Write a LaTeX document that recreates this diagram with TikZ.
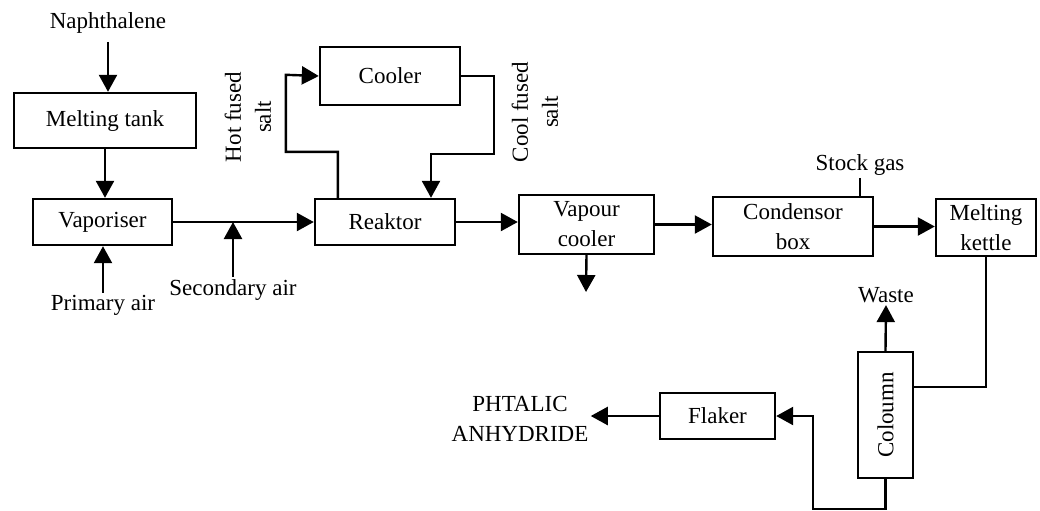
\documentclass[tikz,border=0pt]{standalone}
\usepackage{fontspec}
\setmainfont{Liberation Serif}
\usetikzlibrary{arrows.meta,positioning,calc}

\begin{document}
\begin{tikzpicture}[
  x=0.5pt,y=-0.5pt,
  box/.style={draw,line width=1.2pt,inner sep=1pt,align=center,font=\fontsize{11.5}{15}\selectfont},
  tag/.style={inner sep=1pt,align=center,font=\fontsize{11.5}{15}\selectfont},
  flow/.style={-{Triangle[length=8.5pt,width=9pt]},line width=1.2pt},
  pipe/.style={line width=1.2pt}
]
  \useasboundingbox (0,0) rectangle (1040,510);
  % units
  \node[box,minimum width=91pt,minimum height=27.5pt] (tank) at (105,120.5) {Melting tank};
  \node[box,minimum width=69.5pt,minimum height=23pt] (vap) at (102.5,222) {Vaporiser};
  \node[box,minimum width=70pt,minimum height=29pt] (cooler) at (390,76) {Cooler};
  \node[box,minimum width=70pt,minimum height=23pt] (reaktor) at (385,222) {Reaktor};
  \node[box,minimum width=67.5pt,minimum height=29.5pt] (vcool) at (586.5,224.5) {Vapour\\cooler};
  \node[box,minimum width=80pt,minimum height=29.5pt] (cond) at (793,226.5) {Condensor\\box};
  \node[box,minimum width=50pt,minimum height=28.5pt] (kettle) at (986,227.5) {Melting\\kettle};
  \node[box,minimum width=27.5pt,minimum height=63pt] (column) at (885.5,415) {\rotatebox{90}{Coloumn}};
  \node[box,minimum width=57.5pt,minimum height=23pt] (flaker) at (717.5,416) {Flaker};
  % streams
  \node[tag] (naph) at (108,23) {Naphthalene};
  \node[tag] (primary) at (103,305) {Primary air};
  \node[tag] (secondary) at (233,290) {Secondary air};
  \node[tag,rotate=90] (hot) at (248,117) {Hot fused\\salt};
  \node[tag,rotate=90] (cool) at (535,112) {Cool fused\\salt};
  \node[tag] (stock) at (860,165) {Stock gas};
  \node[tag] (waste) at (886,295) {Waste};
  \node[tag] (product) at (520,419) {PHTALIC\\ANHYDRIDE};
  \coordinate (vout) at (586,292);

  \draw[flow,shorten <=3pt] (naph.south) -- (naph.south |- tank.north);
  \draw[flow] (tank.south) -- (tank.south |- vap.north);
  \draw[flow] (primary.north) -- (primary.north |- vap.south);
  \draw[flow] (vap) -- (reaktor);
  \draw[flow] (secondary.north) -- (secondary.north |- vap.east);
  \draw[flow] ([xshift=12pt]reaktor.north west) -- ++(0,-46) -| ++(-52,-77) -- (cooler.west);
  \draw[flow] (cooler.east) -- ++(33,0) |- ($(reaktor.north)+(46,-44)$) -- ([xshift=23pt]reaktor.north);
  \draw[flow] (reaktor.east) -- (reaktor.east -| vcool.west);
  \draw[flow] (vcool.east) -- (vcool.east -| cond.west);
  \draw[flow] (vcool.south) -- (vout);
  \draw[pipe] (stock.south) -- (stock.south |- cond.north);
  \draw[flow] (cond.east) -- (cond.east -| kettle.west);
  \draw[pipe] (kettle.south) |- ([yshift=14pt]column.east);
  \draw[flow] (column.north) -- (waste.south);
  \draw[flow] (column.south) -- ++(0,30) -| ($(flaker.east)+(37,0)$) -- (flaker.east);
  \draw[flow] (flaker.west) -- (flaker.west -| product.east);
\end{tikzpicture}
\end{document}
